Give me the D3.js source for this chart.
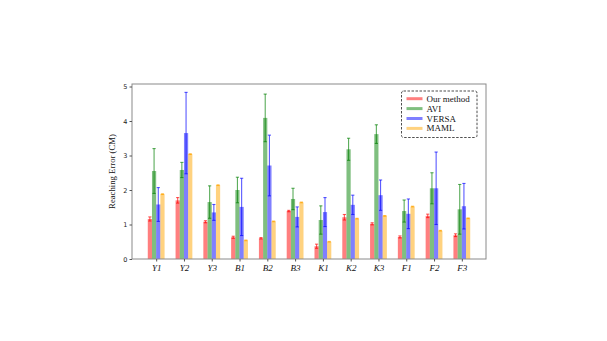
<html>
<head>
  <script src="https://d3js.org/d3.v7.min.js"></script>
  <style>
    body { margin: 0; background: #fff; }
  </style>
</head>
<body>
  <svg id="chart" width="607" height="341"></svg>
  <script>
    // data
    const tasks = ["Y1", "Y2", "Y3", "B1", "B2", "B3", "K1", "K2", "K3", "F1", "F2", "F3"];
    const methods = ["Our method", "AVI", "VERSA", "MAML"];
    const ours = [1.16, 1.70, 1.08, 0.63, 0.60, 1.39, 0.37, 1.21, 1.02, 0.64, 1.25, 0.69];
    const oursErr = [0.06, 0.08, 0.03, 0.03, 0.02, 0.02, 0.06, 0.08, 0.03, 0.03, 0.05, 0.04];
    const avi = [2.55, 2.58, 1.65, 2.00, 4.09, 1.74, 1.13, 3.18, 3.62, 1.39, 2.05, 1.44];
    const aviErr = [0.65, 0.22, 0.47, 0.37, 0.69, 0.31, 0.41, 0.32, 0.27, 0.32, 0.45, 0.72];
    const versa = [1.58, 3.65, 1.35, 1.51, 2.71, 1.22, 1.36, 1.57, 1.85, 1.31, 2.05, 1.53];
    const versaErr = [0.49, 1.18, 0.23, 0.83, 0.88, 0.29, 0.42, 0.28, 0.44, 0.43, 1.05, 0.66];
    const maml = [1.88, 3.04, 2.14, 0.54, 1.09, 1.64, 0.50, 1.17, 1.25, 1.52, 0.82, 1.18];
    const mamlErr = [0.01, 0.01, 0.01, 0.01, 0.01, 0.01, 0.01, 0.01, 0.01, 0.01, 0.01, 0.01];
    const yTicks = [0, 1, 2, 3, 4, 5];

    const colors = ["red", "green", "blue", "orange"];
    const values = [ours, avi, versa, maml];
    const errs = [oursErr, aviErr, versaErr, mamlErr];

    const pLeft = 132, pRight = 486, pTop = 84, pBottom = 259;
    const svg = d3.select("#chart");

    const x = d3.scalePoint().domain(tasks).range([pLeft, pRight]).padding(0.87);
    const y = d3.scaleLinear().domain([0, 5]).range([pBottom, pBottom - 5 * 34.5]);
    const barW = 4.2;

    // bars + error bars, one series at a time
    methods.forEach((m, s) => {
      let g = svg.append("g");
      let off = (s - 2) * barW;
      g.selectAll("rect")
        .data(tasks)
        .join("rect")
        .attr("x", d => x(d) + off)
        .attr("y", (d, i) => y(values[s][i]))
        .attr("width", barW)
        .attr("height", (d, i) => y(0) - y(values[s][i]))
        .style("fill", colors[s])
        .style("fill-opacity", 0.5);

      let eg = g.append("g").style("stroke", colors[s]).style("stroke-opacity", 0.65).style("stroke-width", 1.1);
      tasks.forEach((d, i) => {
        let cx = x(d) + off + barW / 2;
        let hi = y(values[s][i] + errs[s][i]);
        let lo = y(values[s][i] - errs[s][i]);
        eg.append("line").attr("x1", cx).attr("x2", cx).attr("y1", hi).attr("y2", lo);
        eg.append("line").attr("x1", cx - 1.6).attr("x2", cx + 1.6).attr("y1", hi).attr("y2", hi);
        eg.append("line").attr("x1", cx - 1.6).attr("x2", cx + 1.6).attr("y1", lo).attr("y2", lo);
      });
    });

    // frame
    svg.append("rect")
      .attr("x", pLeft).attr("y", pTop)
      .attr("width", pRight - pLeft).attr("height", pBottom - pTop)
      .style("fill", "none").style("stroke", "#8a8a8a").style("stroke-width", 1);

    // y axis
    let yAxis = svg.append("g")
      .attr("transform", `translate(${pLeft},0)`)
      .call(d3.axisLeft(y).tickValues(yTicks).tickSize(2.5).tickPadding(2).tickFormat(d3.format("d")));
    yAxis.select(".domain").remove();
    yAxis.selectAll("line").style("stroke", "#555");
    yAxis.selectAll("text").style("font-family", "DejaVu Sans").style("font-size", "6.5px").style("fill", "#222");

    // x axis
    let xAxis = svg.append("g")
      .attr("transform", `translate(0,${pBottom})`)
      .call(d3.axisBottom(x).tickSize(2.5).tickPadding(3.5));
    xAxis.select(".domain").remove();
    xAxis.selectAll("line").style("stroke", "#555");
    xAxis.selectAll("text")
      .style("font-family", "Liberation Serif").style("font-style", "italic")
      .style("font-size", "9px").style("fill", "#111");

    svg.append("text")
      .attr("transform", `translate(115,${(pTop + pBottom) / 2}) rotate(-90)`)
      .attr("text-anchor", "middle")
      .style("font-family", "Liberation Serif").style("font-size", "8.7px").style("fill", "#111")
      .text("Reaching Error (CM)");

    // legend
    let lg = svg.append("g");
    lg.append("rect")
      .attr("x", 401.5).attr("y", 91).attr("width", 75.5).attr("height", 46.5).attr("rx", 2)
      .style("fill", "white").style("stroke", "#222").style("stroke-width", 0.8)
      .style("stroke-dasharray", "2.5,1.5");
    methods.forEach((m, i) => {
      let ly = 98.7 + i * 9.9;
      lg.append("line").attr("x1", 406.5).attr("x2", 422.5).attr("y1", ly).attr("y2", ly)
        .style("stroke", colors[i]).style("stroke-opacity", 0.5).style("stroke-width", 3);
      lg.append("text").attr("x", 426.5).attr("y", ly + 3)
        .style("font-family", "Liberation Serif").style("font-size", "9px").style("fill", "#111")
        .text(m);
    });
  </script>
</body>
</html>
